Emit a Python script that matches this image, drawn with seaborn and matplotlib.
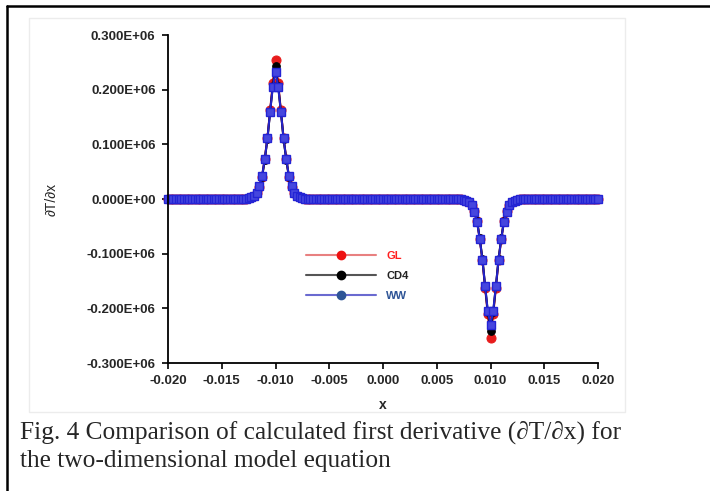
import matplotlib
matplotlib.use("Agg")
import matplotlib.pyplot as plt
from matplotlib.lines import Line2D
from matplotlib.patches import Rectangle
import numpy as np
import seaborn as sns

# grid: -0.020 .. 0.020, step 0.00025 (161 nodes)
x = np.linspace(-0.020, 0.020, 161)

# dT/dx values in units of 1E+03
gl = [
    0, 0, 0, 0, 0, 0, 0, 0, 0, 0, 0, 0, 0, 0,
    0, 0, 0, 0, 0, 0, 0, 0, 0, 0, 0, 0, 0, 0,
    0.3, 0.7, 1.5, 3, 6, 11, 22, 41, 74, 112, 163, 212, 255,
    212, 163, 112, 74, 41, 22, 11, 6, 3, 1.5, 0.7, 0.3,
    0, 0, 0, 0, 0, 0, 0, 0, 0, 0, 0, 0, 0, 0,
    0, 0, 0, 0, 0, 0, 0, 0, 0, 0, 0, 0, 0, 0,
    0, 0, 0, 0, 0, 0, 0, 0, 0, 0, 0, 0, 0, 0,
    0, 0, 0, 0, 0, 0, 0, 0, 0, 0, 0, 0, 0,
    -0.3, -0.7, -1.5, -3, -6, -11, -22, -41, -74, -112, -163, -211, -254,
    -211, -163, -112, -74, -41, -22, -11, -6, -3, -1.5, -0.7, -0.3,
    0, 0, 0, 0, 0, 0, 0, 0, 0, 0, 0, 0, 0, 0,
    0, 0, 0, 0, 0, 0, 0, 0, 0, 0, 0, 0, 0, 0,
]
cd4 = [
    0, 0, 0, 0, 0, 0, 0, 0, 0, 0, 0, 0, 0, 0,
    0, 0, 0, 0, 0, 0, 0, 0, 0, 0, 0, 0, 0, 0,
    0.3, 0.7, 1.5, 3, 6, 11, 22, 40, 72, 110, 160, 207, 243,
    207, 160, 110, 72, 40, 22, 11, 6, 3, 1.5, 0.7, 0.3,
    0, 0, 0, 0, 0, 0, 0, 0, 0, 0, 0, 0, 0, 0,
    0, 0, 0, 0, 0, 0, 0, 0, 0, 0, 0, 0, 0, 0,
    0, 0, 0, 0, 0, 0, 0, 0, 0, 0, 0, 0, 0, 0,
    0, 0, 0, 0, 0, 0, 0, 0, 0, 0, 0, 0, 0,
    -0.3, -0.7, -1.5, -3, -6, -11, -22, -40, -72, -110, -160, -207, -242,
    -207, -160, -110, -72, -40, -22, -11, -6, -3, -1.5, -0.7, -0.3,
    0, 0, 0, 0, 0, 0, 0, 0, 0, 0, 0, 0, 0, 0,
    0, 0, 0, 0, 0, 0, 0, 0, 0, 0, 0, 0, 0, 0,
]
ww = [
    0, 0, 0, 0, 0, 0, 0, 0, 0, 0, 0, 0, 0, 0,
    0, 0, 0, 0, 0, 0, 0, 0, 0, 0, 0, 0, 0, 0,
    0.3, 0.7, 1.5, 3, 6, 11, 23, 42, 73, 111, 160, 205, 233,
    205, 160, 111, 73, 42, 23, 11, 6, 3, 1.5, 0.7, 0.3,
    0, 0, 0, 0, 0, 0, 0, 0, 0, 0, 0, 0, 0, 0,
    0, 0, 0, 0, 0, 0, 0, 0, 0, 0, 0, 0, 0, 0,
    0, 0, 0, 0, 0, 0, 0, 0, 0, 0, 0, 0, 0, 0,
    0, 0, 0, 0, 0, 0, 0, 0, 0, 0, 0, 0, 0,
    -0.3, -0.7, -1.5, -3, -6, -11, -23, -42, -73, -111, -160, -205, -231,
    -205, -160, -111, -73, -42, -23, -11, -6, -3, -1.5, -0.7, -0.3,
    0, 0, 0, 0, 0, 0, 0, 0, 0, 0, 0, 0, 0, 0,
    0, 0, 0, 0, 0, 0, 0, 0, 0, 0, 0, 0, 0, 0,
]

xticks = [-0.020, -0.015, -0.010, -0.005, 0.000, 0.005, 0.010, 0.015, 0.020]
yticks = [-3e5, -2e5, -1e5, 0, 1e5, 2e5, 3e5]
ytick_labels = ["-0.300E+06", "-0.200E+06", "-0.100E+06", "0.000E+00",
                "0.100E+06", "0.200E+06", "0.300E+06"]
caption1 = "Fig. 4 Comparison of calculated first derivative (\u2202T/\u2202x) for"
caption2 = "the two-dimensional model equation"

sns.set_style("ticks")
plt.rcParams['font.family'] = ['Liberation Sans', 'DejaVu Sans']

fig = plt.figure(figsize=(7.1, 4.91), dpi=100)
ax = fig.add_axes([168 / 710, 1 - 363 / 491, 430 / 710, 328 / 491])

sns.lineplot(x=x, y=np.array(gl) * 1e3, ax=ax, color="#e81c1c", lw=1.5,
             marker="o", markersize=6.5, markeredgecolor="#e81c1c", clip_on=False)
sns.lineplot(x=x, y=np.array(cd4) * 1e3, ax=ax, color="black", lw=1.5,
             marker="o", markersize=5.5, markeredgecolor="black", clip_on=False)
sns.lineplot(x=x, y=np.array(ww) * 1e3, ax=ax, color="#2323c8", lw=1.5,
             marker="s", markersize=5.8, markerfacecolor="#4646de",
             markeredgecolor="#2424d4", markeredgewidth=1, clip_on=False)

ax.set_xlim(-0.020, 0.020)
ax.set_ylim(-3e5, 3e5)
ax.set_xticks(xticks)
ax.set_xticklabels([f"{t:.3f}" for t in xticks])
ax.set_yticks(yticks)
ax.set_yticklabels(ytick_labels)
ax.tick_params(direction="out", length=4, width=1.2, color="black",
               labelsize=9.5, pad=5)
for lab in ax.get_xticklabels() + ax.get_yticklabels():
    lab.set_fontweight("bold")
sns.despine(ax=ax)
for s in ["left", "bottom"]:
    ax.spines[s].set_linewidth(1.3)
    ax.spines[s].set_color("black")

ax.set_xlabel("x", fontsize=10, fontweight="bold")
ax.xaxis.set_label_coords(0.5, -0.128)
ax.xaxis.label.set_va("center")
ax.set_ylabel("\u2202T/\u2202x", fontsize=10)
ax.yaxis.set_label_coords(-0.27, 0.5)
ax.yaxis.label.set_va("center")

handles = [
    Line2D([], [], color="#e88080", lw=1.5, marker="o", markersize=6,
           markerfacecolor="#ee1111", markeredgecolor="#ee1111"),
    Line2D([], [], color="#555555", lw=1.5, marker="o", markersize=6,
           markerfacecolor="black", markeredgecolor="black"),
    Line2D([], [], color="#6a6ad0", lw=1.5, marker="o", markersize=6,
           markerfacecolor="#2e5496", markeredgecolor="#2e5496"),
]
leg = ax.legend(handles, ["GL", "CD4", "WW"], loc="center left",
                bbox_to_anchor=(0.298, 0.265), frameon=False, handlelength=6.3,
                handletextpad=0.9, labelspacing=0.9,
                prop={"size": 8, "weight": "bold"})
for t, c in zip(leg.get_texts(), ["#ff2020", "#222222", "#2e5496"]):
    t.set_color(c)

# outer frame and faint chart border
fig.add_artist(Line2D([7 / 710, 7 / 710], [0, 1 - 6 / 491], color="black",
                      lw=1.8, transform=fig.transFigure))
fig.add_artist(Line2D([7 / 710, 1], [1 - 6 / 491, 1 - 6 / 491], color="black",
                      lw=1.8, transform=fig.transFigure))
fig.add_artist(Rectangle((29 / 710, 1 - 412 / 491), 596 / 710, 394 / 491,
                         fill=False, edgecolor="#ececec", lw=1,
                         transform=fig.transFigure))

serif = ["Liberation Serif", "DejaVu Serif"]
fig.text(20 / 710, 1 - 432 / 491, caption1, family=serif, fontsize=18.3, va="center")
fig.text(20 / 710, 1 - 461 / 491, caption2, family=serif, fontsize=18.3, va="center")

fig.savefig("out.png", dpi=100)
